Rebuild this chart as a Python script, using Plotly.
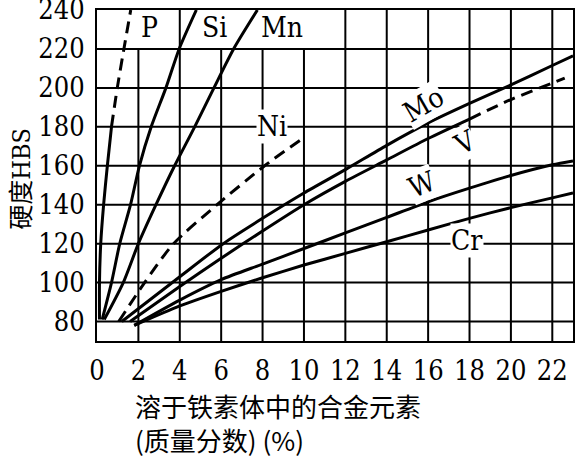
import plotly.graph_objects as go

# ---- data ----
hard_levels = [81, 100, 120, 140, 160, 180, 200, 220, 240]
P_x = [0.12, 0.12, 0.18, 0.32, 0.50, 0.70, 0.98, 1.30, 1.63]
Si_x = [0.25, 0.70, 1.10, 1.62, 2.05, 2.62, 3.33, 3.97, 4.80]
Mn_x = [0.35, 1.27, 2.00, 2.85, 3.75, 4.72, 5.65, 6.60, 7.75]

Ni_x = [1.05, 2.3, 3.7, 5.8, 8.1, 9.8]
Ni_y = [80, 100, 120, 140, 160, 173]

Mo_x = [1.2, 4, 6.1, 8, 10, 12, 14, 16, 18, 20, 22, 23]
Mo_y = [80, 103, 120, 133, 146, 158, 170.5, 182, 192, 201.5, 211.5, 216.5]

V_x = [1.6, 4, 6, 8, 10, 12, 14, 16, 18]
V_y = [80, 98, 112.5, 126.5, 140, 152, 163, 174, 184]
V_dash_x = [18, 20, 22, 22.6]
V_dash_y = [184, 194, 202.5, 205]

W_x = [1.8, 4, 6, 8, 10, 12, 14, 16, 18, 20, 22, 23]
W_y = [78, 91, 101.5, 109.5, 117.5, 125.5, 133.5, 141.5, 148.5, 155, 160.5, 162.5]

Cr_x = [1.8, 4, 6, 8, 10, 12, 14, 16, 18, 20, 22, 23]
Cr_y = [78, 88, 95.5, 102.5, 109, 115, 121, 127, 133, 138.5, 143.5, 146]

x_ticks = list(range(0, 23, 2))
y_ticks = list(range(80, 241, 20))

P_split = 5  # P is solid up to 180, dashed above

serif = "DejaVu Serif Condensed"
cjk = "Noto Sans CJK SC"

fig = go.Figure()

solid = dict(color="black", width=3)
dashed = dict(color="black", width=3, dash="12px,7px")


def add(x, y, line):
    fig.add_trace(go.Scatter(x=x, y=y, mode="lines", line=dict(shape="spline", smoothing=0.7, **line),
                             hoverinfo="skip", showlegend=False))


add(P_x[:P_split + 1], hard_levels[:P_split + 1], solid)
add(P_x[P_split:], hard_levels[P_split:], dashed)
add(Si_x, hard_levels, solid)
add(Mn_x, hard_levels, solid)
add(Ni_x, Ni_y, dashed)
add(Mo_x, Mo_y, solid)
add(V_x, V_y, solid)
add(V_dash_x, V_dash_y, dashed)
add(W_x, W_y, solid)
add(Cr_x, Cr_y, solid)

# ---- grid (black, some top-row segments absent) ----
x_min, x_max, y_min, y_max = 0, 23, 70, 240
short_top = {2, 6, 8, 10}
shapes = []
for xv in x_ticks[1:]:
    shapes.append(dict(type="line", xref="x", yref="y", x0=xv, x1=xv, y0=y_min,
                       y1=220 if xv in short_top else y_max,
                       line=dict(color="black", width=2), layer="below"))
for yv in y_ticks[:-1]:
    shapes.append(dict(type="line", xref="x", yref="y", x0=x_min, x1=x_max, y0=yv, y1=yv,
                       line=dict(color="black", width=2), layer="below"))
fig.update_layout(shapes=shapes)

labels = [
    ("P", 2.55, 231, 0, False),
    ("Si", 5.68, 231, 0, False),
    ("Mn", 8.93, 231, 0, False),
    ("Ni", 8.44, 180.4, 0, True),
    ("Mo", 15.8, 191.5, -30, True),
    ("V", 17.8, 172, -28, True),
    ("W", 15.7, 150.5, -22, True),
    ("Cr", 17.9, 121.5, 0, True),
]
for txt, lx, ly, ang, bg in labels:
    fig.add_annotation(x=lx, y=ly, text=txt, showarrow=False, textangle=ang,
                       font=dict(family=serif, size=28, color="black"),
                       bgcolor="white" if bg else None, borderpad=0)

fig.add_annotation(xref="paper", yref="paper", x=-0.164, y=0.49, xanchor="center", yanchor="middle",
                   text="硬度<span style='font-family:DejaVu Serif Condensed'>HBS</span>", textangle=-90,
                   showarrow=False, font=dict(family=cjk, size=25, color="black"))
fig.add_annotation(xref="paper", yref="paper", x=0.075, y=-0.246, xanchor="left", yanchor="middle",
                   align="left", text="溶于铁素体中的合金元素<br>(质量分数) (%)", showarrow=False,
                   font=dict(family=cjk, size=26, color="black"))

fig.update_xaxes(range=[x_min, x_max], tickvals=x_ticks, ticktext=[str(v) for v in x_ticks],
                 showgrid=False, zeroline=False, ticks="", showline=True, mirror=True,
                 linecolor="black", linewidth=2, ticklabelstandoff=5, ticklabeloverflow="allow",
                 tickfont=dict(family=serif, size=27, color="black"))
fig.update_yaxes(range=[y_min, y_max], tickvals=y_ticks, ticktext=[str(v) for v in y_ticks],
                 showgrid=False, zeroline=False, ticks="", showline=True, mirror=True,
                 linecolor="black", linewidth=2, ticklabelstandoff=5, ticklabeloverflow="allow",
                 tickfont=dict(family=serif, size=27, color="black"))

fig.update_layout(width=576, height=458, margin=dict(l=97, r=3, t=10, b=117, autoexpand=False),
                  paper_bgcolor="white", plot_bgcolor="white")

fig.write_html("out.html", config={"displayModeBar": False},
               post_script="document.body.style.margin='0';document.body.style.overflow='hidden';")
